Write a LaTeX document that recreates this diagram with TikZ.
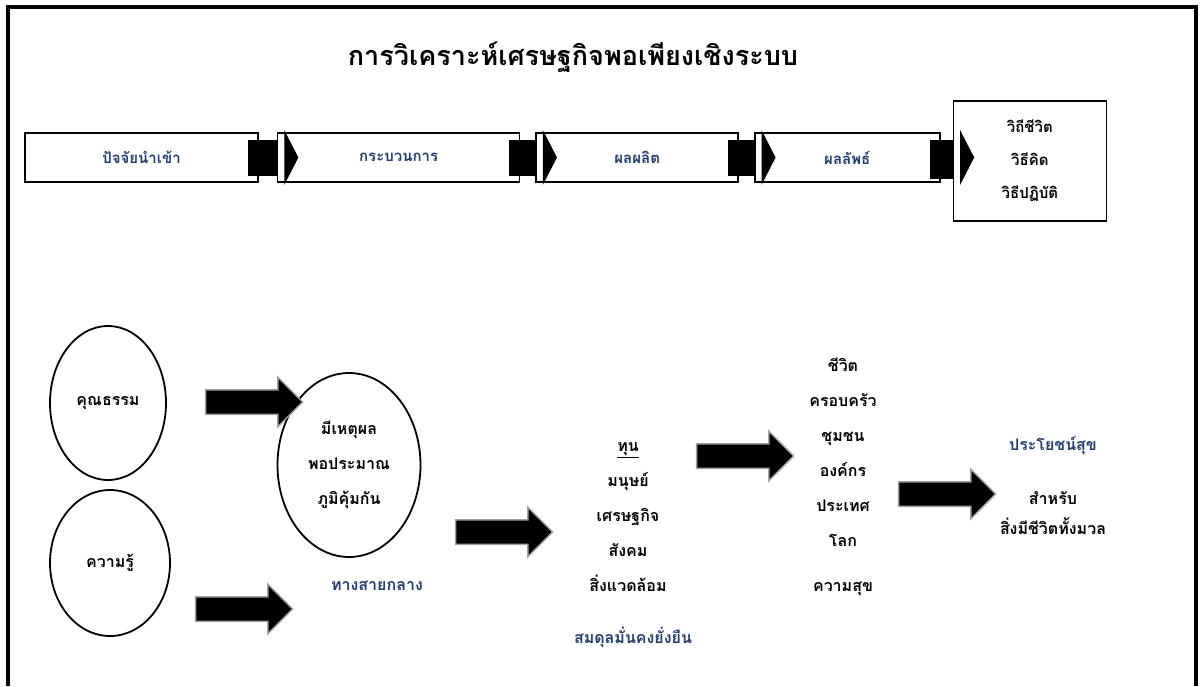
\documentclass[tikz,border=0pt]{standalone}
\usepackage{fontspec}
\setmainfont{Loma}[Script=Thai]
\usetikzlibrary{shapes.geometric,shapes.arrows,positioning}
\definecolor{thaiblue}{RGB}{31,61,110}

\tikzset{
  stage/.style={draw, line width=1.6pt, minimum height=49pt, inner sep=0pt,
    font=\fontsize{15}{15}\selectfont\bfseries, text=thaiblue},
  idea/.style={ellipse, draw, line width=1.8pt, inner sep=0pt,
    font=\fontsize{16}{35}\selectfont\bfseries, align=center},
  words/.style={font=\fontsize{16}{35}\selectfont\bfseries, align=center},
  blueword/.style={font=\fontsize{16}{16}\selectfont\bfseries, text=thaiblue},
  bigarrow/.style={single arrow, fill=black, draw=gray!75, line width=1.5pt,
    inner xsep=0pt, inner ysep=11.5pt, single arrow head extend=12.5pt,
    minimum height=97pt}
}

\newcommand{\rowarrow}[2]{
  \fill ([xshift=-11pt,yshift=18pt]#1.east) rectangle ([yshift=-18pt]#2.west);
  \draw[fill=black, line width=1pt] ([xshift=8pt]#2.west |- #1.north) -- ([xshift=21pt]#2.west |- #1.east)
    -- ([xshift=8pt]#2.west |- #1.south) -- cycle;
}

\begin{document}
\begin{tikzpicture}[x=1pt, y=-1pt]
  \useasboundingbox (0,0) rectangle (1200,686);
  \draw[line width=4pt] (8,686) -- (8,7) -- (1196,7) -- (1196,686);

  \node[font=\fontsize{27}{27}\selectfont\bfseries] (0) at (573,57) {การวิเคราะห์เศรษฐกิจพอเพียงเชิงระบบ};

  \node[stage, minimum width=233pt] (1) at (141.5,157.5) {ปัจจัยนำเข้า};
  \node[stage, minimum width=242pt, right=18pt of 1] (2) {กระบวนการ};
  \node[stage, minimum width=202pt, right=15pt of 2] (3) {ผลผลิต};
  \node[stage, minimum width=185pt, right=15pt of 3] (4) {ผลลัพธ์};
  \node[stage, minimum width=153pt, minimum height=120pt, right=12pt of 4, yshift=-3.5pt,
    text=black, align=center, font=\fontsize{15}{33}\selectfont\bfseries] (5)
    {วิถีชีวิต\\วิธีคิด\\วิธีปฏิบัติ};

  \rowarrow{1}{2}
  \rowarrow{2}{3}
  \rowarrow{3}{4}
  \rowarrow{4}{5}

  \node[idea, minimum width=116pt, minimum height=154pt] (6) at (108,403) {คุณธรรม};
  \node[idea, minimum width=120pt, minimum height=146pt] (7) at (110,563) {ความรู้};
  \node[idea, minimum width=143pt, minimum height=184pt] (8) at (349,465) {มีเหตุผล\\พอประมาณ\\ภูมิคุ้มกัน};
  \node[blueword] (9) at (377,586) {ทางสายกลาง};

  \node[bigarrow] (a1) at (248,402) {};
  \node[bigarrow] (a2) at (238,609) {};
  \node[bigarrow] (a3) at (498,532) {};
  \node[bigarrow] (a4) at (739,456) {};
  \node[bigarrow] (a5) at (941,494) {};

  \node[words] (10) at (628,517) {\underline{ทุน}\\มนุษย์\\เศรษฐกิจ\\สังคม\\สิ่งแวดล้อม};
  \node[blueword] (11) at (633,637) {สมดุลมั่นคงยั่งยืน};

  \node[words] (12) at (843,477) {ชีวิต\\ครอบครัว\\ชุมชน\\องค์กร\\ประเทศ\\โลก\\[10pt]ความสุข};

  \node[blueword] (13) at (1053,446) {ประโยชน์สุข};
  \node[words, font=\fontsize{16}{30}\selectfont\bfseries] (14) at (1053,513) {สำหรับ\\สิ่งมีชีวิตทั้งมวล};
\end{tikzpicture}
\end{document}
